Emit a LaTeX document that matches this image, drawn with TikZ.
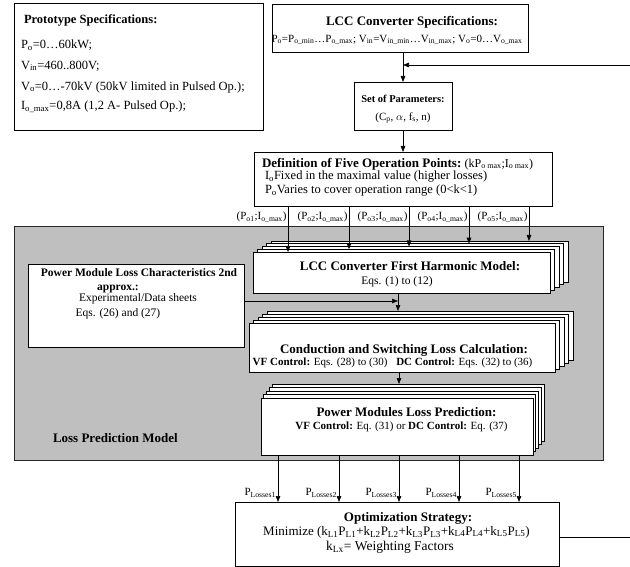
\documentclass[tikz,border=0pt]{standalone}
\usepackage{fontspec}
\setmainfont{Liberation Serif}
\usetikzlibrary{arrows.meta}
\newcommand\fs[1]{\fontsize{#1}{#1}\selectfont}
\newcommand\layers[6]{% x1,y1,x2,y2,dx,dy (dy positive = upward shift)
  \foreach \k in {4,3,2,1}{
    \draw[fill=white, line width=0.8pt] ({#1+\k*#5},{#2-\k*#6}) rectangle ({#3+\k*#5},{#4-\k*#6});
  }}
\tikzset{
  every node/.style={inner sep=0pt, outer sep=0pt},
  box/.style={draw, fill=white, line width=0.8pt, anchor=north west},
  arr/.style={-{Triangle[length=6pt,width=4.5pt]}, line width=0.7pt},
  lbl/.style={anchor=east, font=\fs{11}},
  ttl/.style={font=\fs{13}\bfseries},
}
\begin{document}
\begin{tikzpicture}[x=1pt,y=-1pt]
\useasboundingbox (0,0) rectangle (630,567);
\fill[white] (0,0) rectangle (630,567);

% Prototype specifications
\node[box, minimum width=249pt, minimum height=127pt] (proto) at (14,3) {};
\node[anchor=west, font=\fs{12.5}\bfseries] (protoT) at (24,20) {Prototype Specifications:};
\node[anchor=west, font=\fs{12.5}] (proto1) at (21,45) {P\textsubscript{o}=0…60kW;};
\node[anchor=west, font=\fs{12.5}] (proto2) at (21,66) {V\textsubscript{in}=460..800V;};
\node[anchor=west, font=\fs{12.5}] (proto3) at (21,87) {V\textsubscript{o}=0…-70kV (50kV limited in Pulsed Op.);};
\node[anchor=west, font=\fs{12.5}] (proto4) at (21,107) {I\textsubscript{o\_max}=0,8A (1,2 A- Pulsed Op.);};

% LCC converter specifications
\node[box, minimum width=256pt, minimum height=48pt] (spec) at (272,4) {};
\node[ttl] (specT) at (412,22) {LCC Converter Specifications:};
\node[font=\fs{11}] (spec1) at (397,40) {P\textsubscript{o}=P\textsubscript{o\_min}…P\textsubscript{o\_max}; V\textsubscript{in}=V\textsubscript{in\_min}…V\textsubscript{in\_max}; V\textsubscript{o}=0…V\textsubscript{o\_max}};

% Set of parameters
\node[box, minimum width=98pt, minimum height=48pt] (set) at (354,82) {};
\node[font=\fs{10.5}\bfseries] (setT) at (403,99) {Set of Parameters:};
\node[font=\fs{11}] (set1) at (403,118) {(C\textsubscript{p}, $\alpha$, f\textsubscript{s}, n)};

% Definition of five operation points
\node[box, minimum width=298pt, minimum height=54pt] (def) at (254,152) {};
\node[anchor=west] (def0) at (262,164) {{\fs{13}\bfseries Definition of Five Operation Points:} {\fs{12}(kP\textsubscript{o max};I\textsubscript{o max})}};
\node[anchor=west, font=\fs{12.5}] (def1) at (265,177) {I\textsubscript{o}Fixed in the maximal value (higher losses)};
\node[anchor=west, font=\fs{12.5}] (def2) at (265,191) {P\textsubscript{o}Varies to cover operation range (0<k<1)};

% Loss prediction model (gray)
\node[draw=black!85, fill=black!25, line width=0.8pt, anchor=north west, minimum width=589pt, minimum height=234pt] (lpm) at (14,226) {};
\node[anchor=west, ttl] (lpmT) at (53,438) {Loss Prediction Model};

% Power module loss characteristics
\node[box, minimum width=216pt, minimum height=83pt] (pml) at (28,264) {};
\node[font=\fs{11.5}\bfseries] (pmlT) at (139,273) {Power Module Loss Characteristics 2nd};
\node[font=\fs{11.5}\bfseries] (pmlT2) at (118,289) {approx.:};
\node[font=\fs{11.5}] (pml1) at (138,299) {Experimental/Data sheets};
\node[font=\fs{11.5}] (pml2) at (118,314) {Eqs. (26) and (27)};

% LCC converter first harmonic model (stack)
\layers{253}{252}{550}{293}{4.5}{2.75}
\node[box, minimum width=297pt, minimum height=41pt] (harm) at (253,252) {};
\node[ttl] (harmT) at (410,266) {LCC Converter First Harmonic Model:};
\node[font=\fs{11.5}] (harm1) at (397,282) {Eqs. (1) to (12)};

% Conduction and switching loss calculation (stack)
\layers{249}{323}{555}{372}{4.5}{3}
\node[box, minimum width=306pt, minimum height=49pt] (cond) at (249,323) {};
\node[ttl] (condT) at (404,350) {Conduction and Switching Loss Calculation:};
\node[font=\fs{11}] (cond1) at (392.5,363) {\textbf{VF Control:} Eqs. (28) to (30)\hspace{0.8em}\textbf{DC Control:} Eqs. (32) to (36)};

% Power modules loss prediction (stack)
\layers{261}{398}{533}{455}{2.75}{3.5}
\node[box, minimum width=272pt, minimum height=57pt] (pmp) at (261,398) {};
\node[ttl] (pmpT) at (406.5,412) {Power Modules Loss Prediction:};
\node[font=\fs{11}] (pmp1) at (401.5,427) {\textbf{VF Control:} Eq. (31) or \textbf{DC Control:} Eq. (37)};

% Optimization strategy
\node[box, minimum width=324pt, minimum height=64pt] (opt) at (235,502) {};
\node[ttl] (optT) at (408,518) {Optimization Strategy:};
\node[font=\fs{13}] (opt1) at (396.5,532) {Minimize (k\textsubscript{L1}P\textsubscript{L1}+k\textsubscript{L2}P\textsubscript{L2}+k\textsubscript{L3}P\textsubscript{L3}+k\textsubscript{L4}P\textsubscript{L4}+k\textsubscript{L5}P\textsubscript{L5})};
\node[font=\fs{13.5}] (opt2) at (390,547) {k\textsubscript{Lx}= Weighting Factors};

% Connectors
\draw[arr] (set.north |- spec.south) -- (set.north);
\draw[arr] (set.south) -- (set.south |- def.north);
\coordinate (fb) at (403,65);
\draw[line width=0.7pt] ([yshift=-3pt]opt.east) -- ++(80,0) coordinate (fbc);
\draw[arr] (fbc) |- (fb);

\foreach \x/\k/\i in {288/0/1, 349/1/2, 409/2/3, 469/3/4, 529/4/5}{
  \coordinate (top\i) at (\x,{252-\k*2.75});
  \draw[arr] (def.south -| top\i) -- (top\i);
  \node[lbl] (op\i) at ({\x-1.5},217) {(P\textsubscript{o\i};I\textsubscript{o\_max})};
}

\coordinate (join) at (398,301);
\coordinate (ctop) at (398,311);
\draw[arr] (harm.south -| ctop) -- (ctop);
\draw[arr] ([yshift=4.5pt]pml.east) -- (join);

\coordinate (ptop) at (399,384);
\draw[arr] (cond.south -| ptop) -- (ptop);

\foreach \x/\i in {278/1, 339/2, 399/3, 459/4, 519/5}{
  \coordinate (bot\i) at (\x,502);
  \draw[arr] (pmp.south -| bot\i) -- (opt.north -| bot\i);
  \node[lbl, font=\fs{11}] (pl\i) at ({\x-2},493) {P\textsubscript{Losses\i}};
}
\end{tikzpicture}
\end{document}
